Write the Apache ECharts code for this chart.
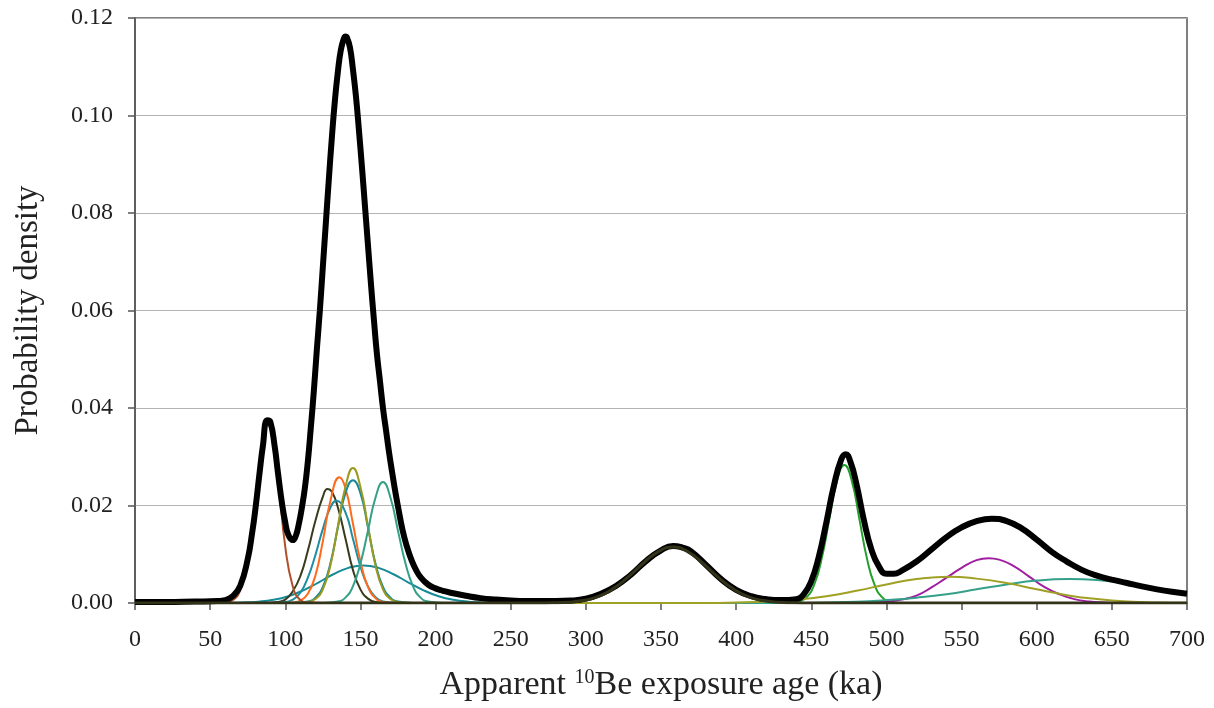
<!DOCTYPE html>
<html>
<head>
<meta charset="utf-8">
<script src="https://cdn.jsdelivr.net/npm/echarts@6/dist/echarts.min.js"></script>
<style>
html,body{margin:0;padding:0;background:#fff;}
#chart{width:1214px;height:708px;}
</style>
</head>
<body>
<div id="chart"></div>
<script>
// x tick labels (ka) and y tick labels
const xTicks = [0,50,100,150,200,250,300,350,400,450,500,550,600,650,700];
const yTicks = [0.00,0.02,0.04,0.06,0.08,0.10,0.12];

// Summed probability density (thick black)
const sumCurve = [
[0,0.0002],[20,0.0002],[40,0.0003],[55,0.0004],[60,0.0006],[65,0.0014],[70,0.0035],[75,0.009],[78,0.0145],[80,0.019],
[83,0.027],[85,0.032],[88,0.0375],[90,0.0372],[93,0.032],[95,0.027],[98,0.020],[100,0.0165],[102,0.014],[105,0.0129],
[107,0.0138],[109,0.0162],[111,0.0195],[113,0.0235],[115,0.029],[117,0.036],[119,0.0435],[121,0.052],[123,0.060],[125,0.069],
[127,0.078],[129,0.087],[131,0.0955],[133,0.103],[135,0.109],[137,0.1135],[139,0.1158],[140,0.1162],[141,0.116],[143,0.114],
[145,0.1095],[147,0.104],[149,0.097],[151,0.0895],[153,0.0815],[155,0.0735],[157,0.0655],[159,0.058],[161,0.051],[163,0.0455],
[165,0.040],[167,0.0355],[169,0.031],[171,0.027],[173,0.0232],[175,0.0198],[178,0.015],[181,0.0115],[184,0.0088],[187,0.0068],
[190,0.0053],[195,0.0038],[200,0.003],[205,0.0025],[210,0.0021],[220,0.0015],[230,0.001],[240,0.0007],[250,0.0005],[260,0.0004],
[270,0.0004],[280,0.0004],[290,0.0005],[300,0.0009],[310,0.0019],[320,0.0035],[330,0.0058],[340,0.0086],[350,0.0108],[358,0.0117],
[365,0.0113],[370,0.0106],[380,0.0078],[390,0.0049],[400,0.0027],[410,0.0014],[420,0.0008],[430,0.0006],[440,0.0008],[445,0.0018],
[450,0.0045],[455,0.0095],[460,0.0165],[465,0.024],[470,0.0295],[473,0.0305],[476,0.029],[480,0.0245],[485,0.017],[490,0.011],
[495,0.0075],[500,0.006],[505,0.006],[510,0.0066],[520,0.0085],[530,0.011],[540,0.0135],[550,0.0155],[560,0.0168],[570,0.0173],
[580,0.0168],[590,0.0153],[600,0.013],[610,0.0105],[620,0.0085],[630,0.0068],[640,0.0056],[650,0.0048],[660,0.0041],[670,0.0034],
[680,0.0028],[690,0.0023],[700,0.0019]
];

// Individual sample probability curves
const brown88 = [[0,0],[55,0],[60,0.0002],[65,0.0006],[70,0.0026],[75,0.0085],[80,0.019],[85,0.033],[88,0.0365],[90,0.036],[95,0.026],[100,0.0115],[105,0.0034],[110,0.0006],[115,0.0001],[125,0],[700,0]];
const dark129 = [[0,0],[85,0],[95,0.0002],[100,0.0007],[105,0.0024],[110,0.0055],[115,0.0107],[120,0.0168],[125,0.0218],[128,0.0234],[131,0.0228],[135,0.0196],[140,0.0133],[145,0.0068],[150,0.0028],[155,0.0009],[160,0.0002],[170,0],[700,0]];
const teal134 = [[0,0],[90,0],[100,0.0002],[105,0.0007],[110,0.0021],[115,0.0052],[120,0.0098],[125,0.0152],[130,0.0196],[134,0.021],[140,0.0186],[145,0.0132],[150,0.0075],[155,0.0034],[160,0.0012],[165,0.0003],[175,0],[700,0]];
const orange136 = [[0,0],[100,0],[105,0.0001],[110,0.0005],[115,0.0019],[120,0.0056],[125,0.0127],[130,0.0209],[136,0.0258],[140,0.0236],[145,0.0163],[150,0.0085],[155,0.0033],[160,0.001],[165,0.0002],[175,0],[700,0]];
const olive145 = [[0,0],[105,0],[115,0.0002],[120,0.0008],[125,0.0028],[130,0.0077],[135,0.0158],[140,0.0238],[145,0.0277],[150,0.0238],[155,0.0158],[160,0.0077],[165,0.0028],[170,0.0008],[175,0.0002],[185,0],[700,0]];
const teal145 = [[0,0],[105,0],[115,0.0003],[120,0.0011],[125,0.0033],[130,0.0081],[135,0.0155],[140,0.0225],[145,0.0252],[150,0.0225],[155,0.0155],[160,0.0081],[165,0.0033],[170,0.0011],[175,0.0003],[185,0],[700,0]];
const green165 = [[0,0],[125,0],[135,0.0003],[140,0.0011],[145,0.0034],[150,0.0081],[155,0.0148],[160,0.0216],[165,0.0248],[170,0.0216],[175,0.0148],[180,0.0081],[185,0.0034],[190,0.0011],[195,0.0003],[205,0],[700,0]];
const tealBroad152 = [[0,0],[52,0],[62,0.00003],[72,0.0001],[82,0.00027],[92,0.00065],[102,0.0014],[112,0.0026],[122,0.0042],[132,0.0059],[142,0.0072],[152,0.0077],[162,0.0072],[172,0.0059],[182,0.0042],[192,0.0026],[202,0.0014],[212,0.00065],[222,0.00027],[232,0.0001],[242,0.00003],[252,0],[700,0]];
const dark358 = [[0,0],[268,0],[278,0.00004],[288,0.00016],[298,0.0005],[308,0.0013],[318,0.0029],[328,0.0053],[338,0.0081],[348,0.0105],[358,0.0115],[368,0.0105],[378,0.0081],[388,0.0053],[398,0.0029],[408,0.0013],[418,0.0005],[428,0.00016],[438,0.00004],[448,0],[700,0]];
const green472 = [[0,0],[427,0],[437,0.00006],[442,0.0003],[447,0.0012],[452,0.0038],[457,0.0092],[462,0.0172],[467,0.025],[472,0.0283],[477,0.025],[482,0.0172],[487,0.0092],[492,0.0038],[497,0.0012],[502,0.0003],[507,0.00006],[517,0],[700,0]];
const purple568 = [[0,0],[480,0],[490,0.0001],[500,0.0003],[510,0.0007],[520,0.0015],[530,0.0032],[540,0.0052],[550,0.0072],[560,0.0088],[568,0.0092],[575,0.0089],[585,0.0075],[595,0.0054],[605,0.0033],[615,0.0018],[625,0.0008],[635,0.0003],[645,0.0001],[655,0],[700,0]];
const tealBroad622 = [[0,0],[440,0],[460,0.0001],[480,0.00025],[500,0.0006],[520,0.0011],[540,0.0018],[560,0.0028],[580,0.0038],[600,0.0046],[622,0.0049],[640,0.0047],[660,0.004],[680,0.0029],[700,0.002]];
const oliveBroad542 = [[0,0],[380,0],[400,0.0001],[420,0.0003],[440,0.0007],[460,0.0014],[480,0.0025],[500,0.0038],[520,0.0049],[542,0.0054],[560,0.005],[580,0.0041],[600,0.0028],[620,0.0016],[640,0.0008],[660,0.0003],[680,0.0001],[700,0.00005]];

const components = [
  {data: tealBroad152, color: '#178a97'},
  {data: dark129, color: '#3a3a1c'},
  {data: teal134, color: '#1c8ea0'},
  {data: orange136, color: '#ff6a1c'},
  {data: teal145, color: '#18899c'},
  {data: olive145, color: '#9a9a1e'},
  {data: green165, color: '#34a088'},
  {data: brown88, color: '#b0502a'},
  {data: green472, color: '#22a02c'},
  {data: purple568, color: '#a01ea0'},
  {data: tealBroad622, color: '#34a08a'},
  {data: oliveBroad542, color: '#a0a024'}
];

const series = components.map(c => ({
  type: 'line', data: c.data, smooth: 0.5, showSymbol: false, silent: true,
  lineStyle: {color: c.color, width: 2}, z: 2
}));
series.push({
  type: 'line', data: sumCurve, smooth: 0.5, showSymbol: false, silent: true,
  lineStyle: {color: '#000', width: 6}, z: 3
});
series.push({
  type: 'line', data: dark358, smooth: 0.5, showSymbol: false, silent: true,
  lineStyle: {color: '#33331a', width: 3}, z: 4
});

const chart = echarts.init(document.getElementById('chart'), null, {renderer: 'canvas'});
const font = 'Liberation Serif';
chart.setOption({
  animation: false,
  backgroundColor: '#fff',
  grid: {left: 135, right: 27, top: 18, bottom: 105, show: true, borderColor: '#555', borderWidth: 1.5, backgroundColor: 'transparent'},
  xAxis: {
    type: 'value', min: 0, max: 700, interval: 50,
    axisLine: {show: true, onZero: false, lineStyle: {color: '#555', width: 1.5}},
    axisTick: {show: true, inside: false, length: 7, lineStyle: {color: '#555', width: 1.5}},
    axisLabel: {margin: 25, fontFamily: font, fontSize: 24, color: '#222',
      formatter: v => xTicks.includes(v) ? String(v) : ''},
    splitLine: {show: false},
    name: 'Apparent {sup|10}Be exposure age (ka)',
    nameLocation: 'middle', nameGap: 65,
    nameTextStyle: {fontFamily: font, fontSize: 34, color: '#222',
      rich: {sup: {fontFamily: font, fontSize: 20, color: '#222', verticalAlign: 'top', padding: [0,0,13,0]}}}
  },
  yAxis: {
    type: 'value', min: 0, max: 0.12, interval: 0.02,
    axisLine: {show: true, lineStyle: {color: '#555', width: 1.5}},
    axisTick: {show: true, inside: false, length: 7, lineStyle: {color: '#555', width: 1.5}},
    axisLabel: {margin: 22, fontFamily: font, fontSize: 24, color: '#222',
      formatter: v => {
        const t = yTicks.find(y => Math.abs(y - v) < 1e-9);
        return t === undefined ? '' : t.toFixed(2);
      }},
    splitLine: {show: true, lineStyle: {color: '#b4b4b4', width: 1.2}},
    name: 'Probability density',
    nameLocation: 'middle', nameGap: 90, nameRotate: 90,
    nameTextStyle: {fontFamily: font, fontSize: 33, color: '#222'}
  },
  series: series
});
</script>
</body>
</html>
